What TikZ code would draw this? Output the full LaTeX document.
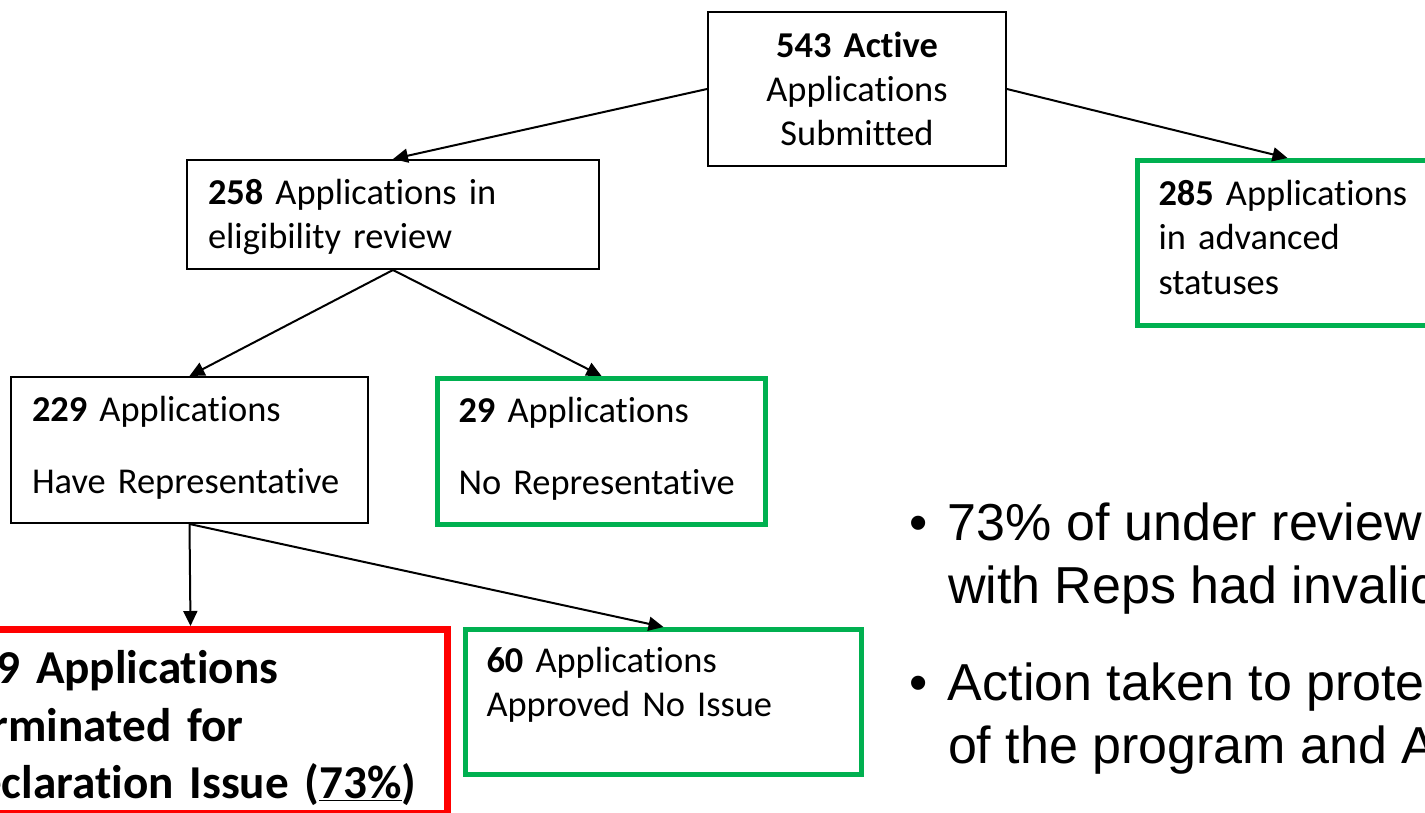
\documentclass[tikz,border=0pt]{standalone}
\usepackage{fontspec}
\setmainfont{Carlito}[Ligatures=NoCommon]
\newfontfamily\notefont{Liberation Sans}
\usepackage{tikz}
\usetikzlibrary{arrows.meta}
\definecolor{okgreen}{RGB}{0,176,80}
\tikzstyle{wbox} = [draw,line width=2pt,anchor=north west,align=left,inner xsep=21pt,inner ysep=0pt,font=\fontsize{36.4}{44.4}\selectfont]
\tikzstyle{gbox} = [wbox,draw=okgreen,line width=5pt]
\tikzstyle{rbox} = [wbox,draw=red,line width=7pt,inner xsep=15pt,font=\fontsize{47.2}{57.5}\selectfont\bfseries]
\tikzstyle{note} = [anchor=base west,align=left,inner sep=0pt,font=\notefont\fontsize{52}{63}\selectfont]

\begin{document}
\begin{tikzpicture}[x=1pt,y=-1pt,>={Triangle[length=15pt,width=14pt]},line width=2pt]
    \useasboundingbox (0,0) rectangle (1425,812);
    \clip (0,0) rectangle (1425,812);

% Draw boxes

    \node[wbox,align=center,minimum width=298pt,text height=45pt,text depth=109pt,text width=256pt] at (707,11) (total) {\textbf{543 Active}\\Applications\\Submitted};
    \node[wbox,minimum width=412pt,text height=44pt,text depth=65pt,text width=370pt] at (186,159) (elig) {\textbf{258} Applications in\\eligibility review};
    \node[gbox,minimum width=300pt,text height=45pt,text depth=120pt,text width=258pt] at (1135,158) (adv) {\textbf{285} Applications\\in advanced\\statuses};
    \node[wbox,minimum width=357pt,text height=44pt,text depth=102pt,text width=315pt] at (10,376) (rep) {\textbf{229} Applications\\[27.6pt]Have Representative};
    \node[gbox,minimum width=328pt,text height=44pt,text depth=102pt,text width=286pt] at (435,376) (norep) {\textbf{29} Applications\\[27.6pt]No Representative};
    \node[rbox,minimum width=514pt,text height=54pt,text depth=130pt,text width=484pt] at (-70,626) (term) {169 Applications\\Terminated for\\Declaration Issue (\underline{73\%})};
    \node[gbox,minimum width=396pt,text height=43pt,text depth=102pt,text width=354pt] at (463,627) (appr) {\textbf{60} Applications\\Approved No Issue};

% Notes

    \node[note] at (908,603) (note1) {\makebox[39pt][l]{\textbullet}73\% of under review\\\hspace*{39pt}with Reps had invalid};
    \node[note] at (908,763) (note2) {\makebox[39pt][l]{\textbullet}Action taken to protect\\\hspace*{39pt}of the program and A};

% Draw arrows

    \draw[->] (total.west) -- (elig.north);
    \draw[->] (total.east) -- (adv.north);
    \draw[->] (elig.south) -- (rep.north);
    \draw[->] (elig.south) -- (norep.north);
    \draw[->] (rep.south) -- (term.north);
    \draw[->] (rep.south) -- (appr.north);

\end{tikzpicture}
\end{document}
